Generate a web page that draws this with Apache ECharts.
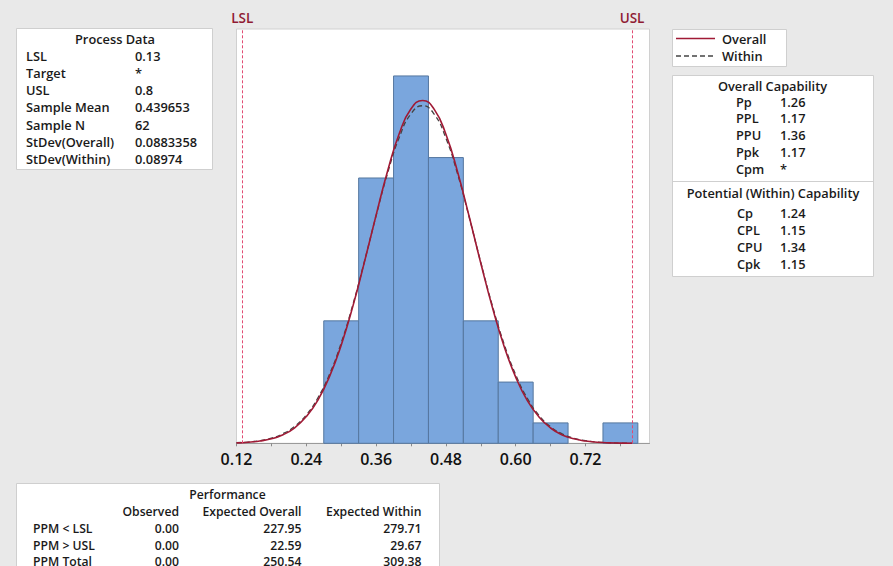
<!DOCTYPE html>
<html>
<head>
<meta charset="utf-8">
<script src="https://cdn.jsdelivr.net/npm/echarts@6/dist/echarts.min.js"></script>
<style>
html,body{margin:0;padding:0;background:#e9e9e9;}
#c{width:893px;height:566px;}
</style>
</head>
<body>
<div id="c"></div>
<script>
// ---- data ----
const binLo = [0.27, 0.33, 0.39, 0.45, 0.51, 0.57, 0.63, 0.69, 0.75];
const binHi = [0.33, 0.39, 0.45, 0.51, 0.57, 0.63, 0.69, 0.75, 0.81];
const counts = [6, 13, 18, 14, 6, 3, 1, 0, 1];
const curveX = [0.12,0.14,0.16,0.18,0.20,0.22,0.24,0.26,0.28,0.30,0.32,0.34,0.36,0.38,0.40,0.42,0.44,0.46,0.48,0.50,0.52,0.54,0.56,0.58,0.60,0.62,0.64,0.66,0.68,0.70,0.72,0.74,0.76,0.78,0.80];
const overallY = [0.02,0.05,0.11,0.22,0.42,0.76,1.31,2.12,3.28,4.81,6.71,8.89,11.18,13.37,15.19,16.39,16.80,16.36,15.14,13.31,11.11,8.82,6.65,4.76,3.24,2.09,1.29,0.75,0.41,0.22,0.11,0.05,0.02,0.01,0.00];
const withinY = [0.03,0.06,0.13,0.25,0.47,0.83,1.39,2.23,3.39,4.92,6.79,8.92,11.15,13.26,15.00,16.15,16.54,16.12,14.95,13.20,11.08,8.86,6.73,4.87,3.36,2.20,1.37,0.81,0.46,0.25,0.13,0.06,0.03,0.01,0.00];
const LSL = 0.13, USL = 0.8;
const xTicks = [0.12, 0.24, 0.36, 0.48, 0.60, 0.72];

const procLabels = ['LSL','Target','USL','Sample Mean','Sample N','StDev(Overall)','StDev(Within)'];
const procValues = ['0.13','*','0.8','0.439653','62','0.0883358','0.08974'];
const legendNames = ['Overall','Within'];
const ovLabels = ['Pp','PPL','PPU','Ppk','Cpm'];
const ovValues = ['1.26','1.17','1.36','1.17','*'];
const wiLabels = ['Cp','CPL','CPU','Cpk'];
const wiValues = ['1.24','1.15','1.34','1.15'];
const perfCols = ['Observed','Expected Overall','Expected Within'];
const perfRows = ['PPM < LSL','PPM > USL','PPM Total'];
const perfVals = [['0.00','227.95','279.71'],['0.00','22.59','29.67'],['0.00','250.54','309.38']];

// ---- styles ----
const FONT = '"Open Sans", "DejaVu Sans", sans-serif';
const TXT = '#1a1a1a';
const FS = 12.8;
const PFS = 12.2;
const OVERALL_C = '#a01a35', WITHIN_C = '#444444';
function t(x, y, text, align, weight, size) {
  return {type:'text', x:x, y:y, silent:true, style:{text:text, fill:TXT, font:(weight||600)+' '+(size||FS)+'px '+FONT, textAlign:align||'left', textVerticalAlign:'middle'}};
}
function box(x, y, w, h) {
  return {type:'rect', shape:{x:x, y:y, width:w, height:h}, silent:true, style:{fill:'#ffffff', stroke:'#cfcfcf', lineWidth:1}};
}

const g = [];
// Process Data box
g.push(box(16.5, 28.5, 196, 141));
g.push(t(115, 38.5, 'Process Data', 'center'));
procLabels.forEach((l, i) => { g.push(t(26, 55.5 + i*17.3, l)); g.push(t(135, 55.5 + i*17.3, procValues[i])); });
// legend box
g.push(box(672.5, 29.5, 114, 37));
g.push({type:'line', shape:{x1:676, y1:38.5, x2:715, y2:38.5}, silent:true, style:{stroke:OVERALL_C, lineWidth:1.6}});
g.push({type:'line', shape:{x1:676, y1:56, x2:715, y2:56}, silent:true, style:{stroke:WITHIN_C, lineWidth:1.4, lineDash:[5,3]}});
g.push(t(722, 38.5, legendNames[0]));
g.push(t(722, 55.5, legendNames[1]));
// capability box
g.push(box(672.5, 75.5, 201, 201));
g.push({type:'line', shape:{x1:672.5, y1:181.5, x2:873.5, y2:181.5}, silent:true, style:{stroke:'#cfcfcf', lineWidth:1}});
g.push(t(772.5, 85.5, 'Overall Capability', 'center'));
ovLabels.forEach((l, i) => { g.push(t(736, 101.7 + i*16.7, l)); g.push(t(780, 101.7 + i*16.7, ovValues[i])); });
g.push(t(773, 192.5, 'Potential (Within) Capability', 'center'));
wiLabels.forEach((l, i) => { g.push(t(737, 213.3 + i*16.8, l)); g.push(t(780, 213.3 + i*16.8, wiValues[i])); });
// performance box
g.push(box(16.5, 483.5, 423, 100));
g.push(t(227.5, 494.5, 'Performance', 'center', 600, PFS));
const perfRight = [179, 301.5, 421.5];
perfCols.forEach((c, j) => g.push(t(perfRight[j], 511.5, c, 'right', 600, PFS)));
perfRows.forEach((r, i) => {
  g.push(t(33, 528.5 + i*16.5, r, 'left', 600, PFS));
  perfVals[i].forEach((v, j) => g.push(t(perfRight[j], 528.5 + i*16.5, v, 'right', 600, PFS)));
});

const chart = echarts.init(document.getElementById('c'), null, {renderer:'svg'});
chart.setOption({
  backgroundColor:'#e9e9e9',
  animation:false,
  grid:{left:236.5, right:243.5, top:29, bottom:122.7, show:true, backgroundColor:'#ffffff', borderColor:'#d0d0d0', borderWidth:1},
  xAxis:{
    type:'value', min:0.12, max:0.83, interval:0.06,
    axisLine:{show:true, onZero:false, lineStyle:{color:'#9a9a9a', width:1}},
    axisTick:{show:true, length:3, inside:false, lineStyle:{color:'#8a8a8a'}},
    splitLine:{show:false},
    axisLabel:{
      margin:8, color:'#111', fontFamily:FONT, fontSize:16, fontWeight:600,
      showMaxLabel:false,
      formatter:function(v){ const hit = xTicks.find(x => Math.abs(x - v) < 1e-6); return hit === undefined ? '' : hit.toFixed(2); }
    }
  },
  yAxis:{type:'value', min:0, max:20.3, show:false, splitLine:{show:false}},
  series:[
    {
      type:'custom', name:'Histogram', z:2,
      data: counts.map((c, i) => [binLo[i], binHi[i], c]),
      renderItem:function(params, api){
        const c = api.value(2);
        if (!c) return null;
        const p0 = api.coord([api.value(0), 0]);
        const p1 = api.coord([api.value(1), c]);
        return {type:'rect', shape:{x:p0[0], y:p1[1], width:p1[0]-p0[0], height:p0[1]-p1[1]},
          style:{fill:'#7aa6dd', stroke:'#55779f', lineWidth:1}};
      },
      encode:{x:[0,1], y:2}
    },
    {
      type:'line', name:'Overall', smooth:true, symbol:'none', z:4,
      data: curveX.map((x, i) => [x, overallY[i]]),
      lineStyle:{color:OVERALL_C, width:1.6},
      itemStyle:{color:OVERALL_C},
      markLine:{
        silent:true, symbol:'none',
        lineStyle:{color:'#e24a72', type:[3,2], width:1},
        label:{show:true, position:'end', distance:4, color:'#8f1a33', fontFamily:FONT, fontSize:13.5, fontWeight:600},
        data:[{xAxis:LSL, name:'LSL', label:{formatter:'LSL'}}, {xAxis:USL, name:'USL', label:{formatter:'USL'}}]
      }
    },
    {
      type:'line', name:'Within', smooth:true, symbol:'none', z:3,
      data: curveX.map((x, i) => [x, withinY[i]]),
      lineStyle:{color:WITHIN_C, width:1.3, type:[5,3]},
      itemStyle:{color:WITHIN_C}
    }
  ],
  graphic:g
});
</script>
</body>
</html>
